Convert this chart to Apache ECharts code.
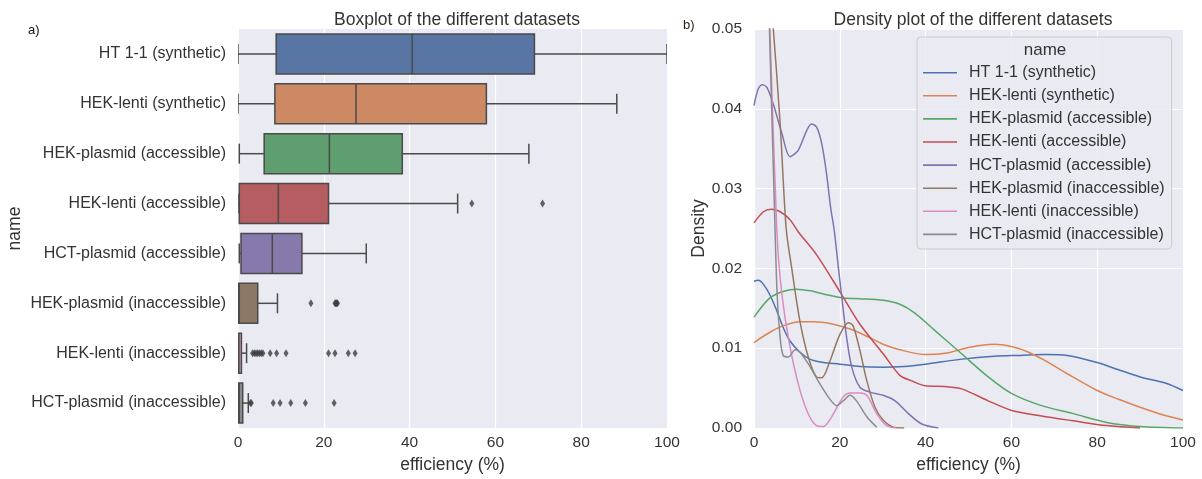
<!DOCTYPE html>
<html>
<head>
<meta charset="utf-8">
<script src="https://cdn.jsdelivr.net/npm/echarts@6/dist/echarts.min.js"></script>
<style>
  html, body { margin: 0; padding: 0; background: #fff; }
  #main { width: 1202px; height: 479px; }
</style>
</head>
<body>
<div id="main"></div>
<script>
// categories (top to bottom)
const categories = [
  "HT 1-1 (synthetic)",
  "HEK-lenti (synthetic)",
  "HEK-plasmid (accessible)",
  "HEK-lenti (accessible)",
  "HCT-plasmid (accessible)",
  "HEK-plasmid (inaccessible)",
  "HEK-lenti (inaccessible)",
  "HCT-plasmid (inaccessible)",
];

// boxplot stats
const boxMin = [0, 0, 0.3, 0, 0.3, 0, 0, 0];
const boxQ1 = [8.9, 8.6, 6.1, 0.3, 0.7, 0.15, 0.1, 0.1];
const boxMedian = [40.6, 27.5, 21.3, 9.4, 8.0, 0.3, 0.2, 0.3];
const boxQ3 = [69.1, 57.9, 38.3, 21.1, 14.9, 4.6, 0.8, 1.1];
const boxMax = [100, 88.3, 67.8, 51.2, 29.9, 9.2, 2.0, 2.4];

// outliers per category index
const outliersHEKLentiAcc = [54.5, 71.0];
const outliersHEKPlasmidInacc = [17.0, 22.6, 22.8, 23.0, 23.2];
const outliersHEKLentiInacc = [3.4, 3.8, 4.2, 4.6, 5.0, 5.4, 5.8, 7.5, 9.0, 11.2, 21.1, 22.6, 25.7, 27.3];
const outliersHCTPlasmidInacc = [2.9, 3.1, 8.2, 9.8, 12.3, 15.7, 22.4];

// density curves (x = efficiency %, d = density)
const htX = [0, 1, 2.2, 3.7, 5.3, 6.8, 8.4, 10.7, 13.1, 16.2, 20, 24.7, 30, 35, 40, 48, 56, 62, 68, 73, 80, 85, 90, 96, 100];
const htD = [.0184, .0185, .0180, .0167, .0147, .0126, .0109, .0095, .0086, .0082, .0080, .0077, .0076, .0077, .0080, .0086, .0090, .0091, .0092, .0091, .0082, .0073, .0064, .0056, .0047];

const hekLentiSynX = [0, 3.7, 6.8, 10.7, 13.8, 18.5, 22.4, 26.3, 30.1, 34, 40, 45, 50, 56, 60, 64, 68, 73, 80, 85, 90, 95, 100];
const hekLentiSynD = [.0107, .0120, .0128, .0133, .0133, .0130, .0124, .0115, .0105, .0098, .0092, .0094, .0101, .0105, .0102, .0095, .0084, .0068, .0047, .0036, .0026, .0017, .0010];

const hekPlasmidAccX = [0, 3.7, 6.8, 9.9, 13.1, 16.9, 20.8, 24.7, 30.1, 34, 37.5, 42.2, 48.4, 54.6, 60.1, 67, 74.4, 82.2, 90, 100];
const hekPlasmidAccD = [.0139, .0163, .0171, .0174, .0172, .0167, .0163, .0162, .0160, .0155, .0144, .0122, .0093, .0064, .0043, .0028, .0018, .0007, .0002, 0];

const hekLentiAccX = [0, 2.2, 4.1, 6.1, 8.4, 10.3, 14.6, 20, 24.7, 30.1, 34, 36.8, 39.9, 44.5, 48.4, 54.6, 60.1, 67, 74.4, 82.2, 90];
const hekLentiAccD = [.0257, .0271, .0274, .0271, .0261, .0246, .0217, .0171, .0130, .0093, .0066, .0059, .0053, .0052, .0049, .0034, .0022, .0015, .0009, .0003, 0];

const hctPlasmidAccX = [0, 1, 1.9, 3, 4.5, 6.5, 8.4, 10.3, 12.3, 13.4, 14.6, 15.8, 16.9, 17.9, 18.7, 19.5, 20.4, 21.6, 22.8, 24.7, 27, 30.1, 32.9, 36, 39.1, 43];
const hctPlasmidAccD = [.0404, .0425, .0430, .0427, .0406, .0369, .0340, .0348, .0373, .0381, .0377, .0356, .0319, .0275, .0248, .0209, .0167, .0113, .0076, .0051, .0045, .0041, .0034, .0018, .0005, 0];

const hekPlasmidInaccX = [0, 2, 4.5, 6.1, 7.5, 8.8, 10.7, 12.7, 14.6, 15.8, 17.7, 20, 22, 23.1, 24.7, 26.3, 28.2, 30.1, 32.5, 35];
const hekPlasmidInaccD = [.075, .066, .050, .0381, .0250, .0200, .0134, .0088, .0064, .0063, .0084, .0117, .0132, .0128, .0097, .0059, .0026, .0010, .0001, 0];

const hekLentiInaccX = [0, 2, 3.7, 5.3, 6.1, 7.6, 9.9, 12.3, 14.6, 16.2, 18.1, 20.8, 22.4, 24.7, 26.3, 28.6, 30.9, 33.3];
const hekLentiInaccD = [.095, .078, .050, .0250, .0188, .0126, .0064, .0022, .0003, .0002, .0014, .0039, .0044, .0044, .0041, .0018, .0003, 0];

const hctPlasmidInaccX = [0, 2, 3.6, 4.9, 5.4, 6.1, 6.8, 8, 9.6, 10.7, 12.7, 15.4, 17.7, 19.3, 20.8, 22.4, 23.9, 26.3, 28.6];
const hctPlasmidInaccD = [.095, .078, .050, .0250, .0167, .0113, .0091, .0089, .0098, .0095, .0080, .0055, .0036, .0028, .0034, .0041, .0034, .0014, .0001];

const boxColors = ["#5975a4", "#cc8963", "#5f9e6e", "#b55d60", "#857aab", "#8d7866", "#d095bf", "#8c8c8c"];
const lineColors = ["#4c72b0", "#dd8452", "#55a868", "#c44e52", "#8172b3", "#937860", "#da8bc3", "#8c8c8c"];
const edgeColor = "#4a4a4a";
const textColor = "#333";
const font = "Liberation Sans";

const densityX = [htX, hekLentiSynX, hekPlasmidAccX, hekLentiAccX, hctPlasmidAccX, hekPlasmidInaccX, hekLentiInaccX, hctPlasmidInaccX];
const densityD = [htD, hekLentiSynD, hekPlasmidAccD, hekLentiAccD, hctPlasmidAccD, hekPlasmidInaccD, hekLentiInaccD, hctPlasmidInaccD];

const boxData = categories.map((c, i) => [i, boxMin[i], boxQ1[i], boxMedian[i], boxQ3[i], boxMax[i]]);
const outlierData = [];
[[3, outliersHEKLentiAcc], [5, outliersHEKPlasmidInacc], [6, outliersHEKLentiInacc], [7, outliersHCTPlasmidInacc]]
  .forEach(([idx, vals]) => vals.forEach((v) => outlierData.push([v, idx])));

// seaborn-style box: half-width whisker caps
function renderBox(params, api) {
  const cat = api.value(0);
  const yc = api.coord([0, cat])[1];
  const half = api.size([0, 1])[1] * 0.4;
  const px = (dim) => api.coord([api.value(dim), cat])[0];
  const xMin = px(1), xQ1 = px(2), xMed = px(3), xQ3 = px(4), xMax = px(5);
  const ln = { stroke: edgeColor, lineWidth: 1.5 };
  return {
    type: "group",
    children: [
      { type: "line", shape: { x1: xMin, y1: yc, x2: xQ1, y2: yc }, style: ln },
      { type: "line", shape: { x1: xQ3, y1: yc, x2: xMax, y2: yc }, style: ln },
      { type: "line", shape: { x1: xMin, y1: yc - half / 2, x2: xMin, y2: yc + half / 2 }, style: ln },
      { type: "line", shape: { x1: xMax, y1: yc - half / 2, x2: xMax, y2: yc + half / 2 }, style: ln },
      {
        type: "rect",
        shape: { x: xQ1, y: yc - half, width: xQ3 - xQ1, height: half * 2 },
        style: { fill: boxColors[params.dataIndex], stroke: edgeColor, lineWidth: 1.5 },
      },
      { type: "line", shape: { x1: xMed, y1: yc - half, x2: xMed, y2: yc + half }, style: ln },
    ],
  };
}

const xAxisCommon = {
  type: "value",
  min: 0,
  max: 100,
  interval: 20,
  axisLine: { show: false },
  axisTick: { show: false },
  axisLabel: { color: textColor, fontSize: 15.5, fontFamily: font, margin: 7 },
  splitLine: { lineStyle: { color: "#fff", width: 1.2 } },
  name: "efficiency (%)",
  nameLocation: "middle",
  nameGap: 28,
  nameTextStyle: { color: textColor, fontSize: 17.5, fontFamily: font },
};

const chart = echarts.init(document.getElementById("main"));
chart.setOption({
  animation: false,
  textStyle: { fontFamily: font },
  title: [
    { text: "Boxplot of the different datasets", left: 452, top: 6, textAlign: "center",
      textStyle: { color: textColor, fontSize: 17.5, fontWeight: "normal", fontFamily: font } },
    { text: "Density plot of the different datasets", left: 968, top: 6, textAlign: "center",
      textStyle: { color: textColor, fontSize: 17.5, fontWeight: "normal", fontFamily: font } },
  ],
  grid: [
    { left: 238, right: 535, top: 29, bottom: 49, show: true, backgroundColor: "#eaeaf2", borderWidth: 0 },
    { left: 754, right: 19, top: 29, bottom: 48, show: true, backgroundColor: "#eaeaf2", borderWidth: 0 },
  ],
  xAxis: [
    Object.assign({}, xAxisCommon, { gridIndex: 0 }),
    Object.assign({}, xAxisCommon, { gridIndex: 1 }),
  ],
  yAxis: [
    {
      gridIndex: 0,
      type: "category",
      data: categories,
      inverse: true,
      axisLine: { show: false },
      axisTick: { show: false },
      splitLine: { show: false },
      axisLabel: { color: textColor, fontSize: 16, fontFamily: font, margin: 12 },
      name: "name",
      nameLocation: "middle",
      nameGap: 214,
      nameTextStyle: { color: textColor, fontSize: 17.5, fontFamily: font },
    },
    {
      gridIndex: 1,
      type: "value",
      min: 0,
      max: 0.05,
      interval: 0.01,
      axisLine: { show: false },
      axisTick: { show: false },
      axisLabel: { color: textColor, fontSize: 15.5, fontFamily: font, margin: 12,
        formatter: (v) => v.toFixed(2) },
      splitLine: { lineStyle: { color: "#fff", width: 1.2 } },
      name: "Density",
      nameLocation: "middle",
      nameGap: 46,
      nameTextStyle: { color: textColor, fontSize: 17.5, fontFamily: font },
    },
  ],
  legend: {
    data: categories,
    orient: "vertical",
    left: 917,
    top: 37,
    icon: "rect",
    itemWidth: 34,
    itemHeight: 1.6,
    itemGap: 7.1,
    padding: [27.7, 7, 6.6, 6],
    backgroundColor: "rgba(234,234,242,0.85)",
    borderColor: "#cccccc",
    borderWidth: 1,
    borderRadius: 4,
    textStyle: { color: textColor, fontSize: 16, fontFamily: font, padding: [0, 0, 0, 7] },
  },
  graphic: [
    { type: "text", x: 1045, y: 50, z: 100,
      style: { text: "name", fill: textColor, font: "17px 'Liberation Sans'", align: "center", verticalAlign: "middle" } },
    { type: "text", left: 28, top: 24,
      style: { text: "a)", fill: "#111", font: "13px 'Liberation Sans'" } },
    { type: "text", left: 683, top: 19,
      style: { text: "b)", fill: "#2a1a10", font: "13px 'Liberation Sans'" } },
  ],
  series: [
    {
      name: "box",
      type: "custom",
      xAxisIndex: 0,
      yAxisIndex: 0,
      renderItem: renderBox,
      encode: { x: [1, 2, 3, 4, 5], y: 0 },
      clip: true,
      data: boxData,
      z: 3,
    },
    {
      name: "outliers",
      type: "scatter",
      xAxisIndex: 0,
      yAxisIndex: 0,
      symbol: "diamond",
      symbolSize: [5, 8],
      itemStyle: { color: "#3d3d3d" },
      data: outlierData,
      z: 4,
    },
  ].concat(categories.map((name, i) => ({
    name,
    type: "line",
    xAxisIndex: 1,
    yAxisIndex: 1,
    symbol: "none",
    smooth: 0.3,
    clip: true,
    lineStyle: { color: lineColors[i], width: 1.5 },
    itemStyle: { color: lineColors[i] },
    data: densityX[i].map((x, j) => [x, densityD[i][j]]),
  }))),
});
</script>
</body>
</html>
